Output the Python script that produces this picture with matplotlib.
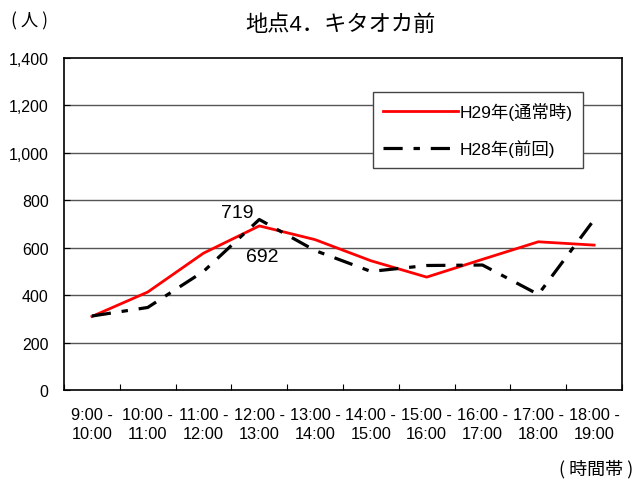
import matplotlib
matplotlib.use("Agg")
import matplotlib.pyplot as plt
import numpy as np

plt.rcParams['font.family'] = ['Liberation Sans', 'Noto Sans CJK JP', 'DejaVu Sans']

categories = ["9:00 -\n10:00", "10:00 -\n11:00", "11:00 -\n12:00", "12:00 -\n13:00",
              "13:00 -\n14:00", "14:00 -\n15:00", "15:00 -\n16:00", "16:00 -\n17:00",
              "17:00 -\n18:00", "18:00 -\n19:00"]
h29 = [310, 413, 577, 692, 634, 545, 476, 551, 625, 611]
h28 = [312, 348, 500, 719, 588, 500, 525, 527, 403, 718]
yticks = [0, 200, 400, 600, 800, 1000, 1200, 1400]

fig = plt.figure(figsize=(6.37, 4.81), dpi=100)
ax = fig.add_axes([64/637, 1-391/481, (622-64)/637, (391-59)/481])

x = np.arange(len(categories))
ax.plot(x, h29, color='#ff0000', lw=2.0, label='H29年(通常時)', zorder=3)
ax.plot(x, h28, color='black', lw=2.3, linestyle=(0, (6.0, 3.4, 2.0, 3.4)),
        label='H28年(前回)', zorder=4)

ax.set_xlim(-0.5, len(categories) - 0.5)
ax.set_ylim(0, 1400)
ax.set_yticks(yticks)
ax.set_yticklabels([f"{v:,}" for v in yticks], fontsize=11.5)
ax.set_xticks(np.arange(len(categories) + 1) - 0.5, minor=True)
ax.set_xticks(x)
ax.set_xticklabels(categories, fontsize=11.8, linespacing=1.4)
ax.tick_params(axis='x', which='major', length=0, pad=12)
ax.tick_params(axis='x', which='minor', length=4, direction='in', width=0.8)
ax.tick_params(axis='y', length=4, direction='in', width=0.8, pad=11)

for v in yticks[1:-1]:
    ax.axhline(v, color='#555555', lw=1.0, zorder=1)
for s in ax.spines.values():
    s.set_linewidth(1.2)
    s.set_color('black')

ax.annotate(str(h28[3]), (3, h28[3]), xytext=(-16, -1), textcoords='offset points',
            fontsize=14, ha='center', va='bottom')
ax.annotate(str(h29[3]), (3, h29[3]), xytext=(2, -16), textcoords='offset points',
            fontsize=14, ha='center', va='top')

leg = ax.legend(loc='upper left', bbox_to_anchor=((373-64)/558, (391-93)/332),
                fontsize=12.5, frameon=True, fancybox=False, edgecolor='#444444',
                framealpha=1, handlelength=4.3, labelspacing=1.1, borderpad=0.6,
                handletextpad=0.1, borderaxespad=0)
leg.get_frame().set_linewidth(1.0)

fig.text(340/637, 1-25/481, "地点4．キタオカ前", fontsize=16, ha='center', va='center')
fig.text(11/637, 1-21/481, "( 人 )", fontsize=12.5, ha='left', va='center',
         family=['Noto Sans CJK JP'])
fig.text(633/637, 1-469/481, "( 時間帯 )", fontsize=13, ha='right', va='center',
         family=['Noto Sans CJK JP'])

fig.savefig("out.png", dpi=100)
